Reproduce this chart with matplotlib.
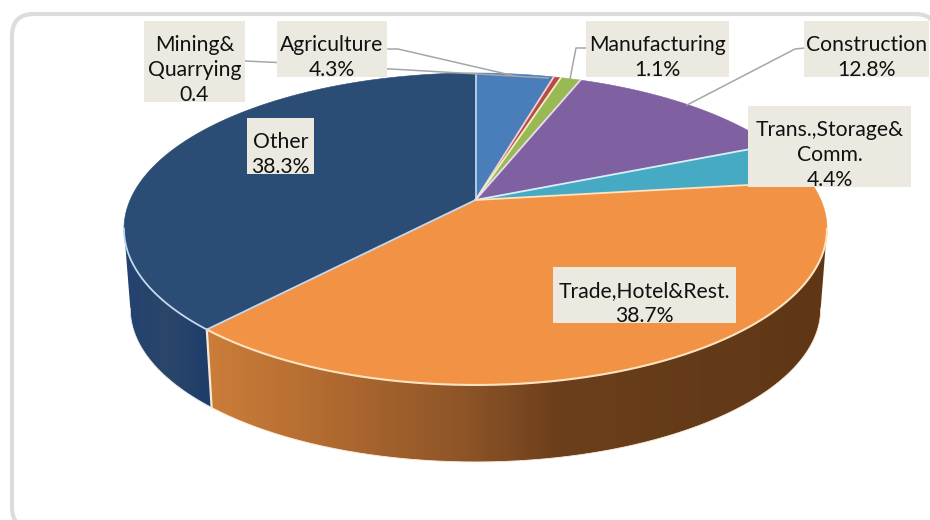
import matplotlib
matplotlib.use("Agg")
import matplotlib.pyplot as plt
import numpy as np
from matplotlib.colors import LinearSegmentedColormap
from matplotlib.patches import FancyBboxPatch, Polygon, Rectangle

plt.rcParams['font.family'] = ['Lato', 'DejaVu Sans']

# sector shares, clockwise from 12 o'clock
sectors = ["Agriculture", "Mining&Quarrying", "Manufacturing", "Construction",
           "Trans.,Storage&Comm.", "Trade,Hotel&Rest.", "Other"]
shares = [4.3, 0.4, 1.1, 12.8, 4.4, 38.7, 38.3]
top_colors = ["#4a7ebb", "#b94a48", "#98b954", "#7f60a0", "#46aac4", "#f29244", "#2b4c74"]
edge_colors = ["#bcd4f0", "#f0d0d0", "#f0f0c8", "#e8dcf0", "#d8f0f8", "#fde3c0", "#c4d8f0"]

box_texts = ["Mining&\nQuarrying\n0.4", "Agriculture\n4.3%", "Manufacturing\n1.1%",
             "Construction\n12.8%", "Trans.,Storage&\nComm.\n4.4%",
             "Trade,Hotel&Rest.\n38.7%", "Other\n38.3%"]
# left, top, right, bottom of each label box
boxes = [(144, 21, 245, 102), (277, 21, 387, 77), (586, 21, 729, 77),
         (804, 21, 929, 77), (748, 106, 911, 187), (553, 267, 736, 323),
         (247, 118, 314, 174)]
leaders = [[(245, 61), (277, 62.5), (548, 78)],
           [(388, 49), (398, 49), (515, 76)],
           [(586, 48), (576, 48), (570, 79)],
           [(805, 48), (795, 49), (687, 105)]]

# pie geometry, perspective tilt keeps the apex above the middle of the ellipse
cx, apex_y = 475.5, 200
k, a, c = 345.4, -113.4, 0.1859
mid_y, drop, shrink = 229, 79.8, 0.982


def rim(frac_start, frac_end, n=300):
    t = np.linspace(frac_start, frac_end, n) * 2 * np.pi
    u, v = np.sin(t), np.cos(t)
    w = 1 + c * v
    return np.column_stack([cx + k * u / w, (a * v + apex_y) / w])


def lower(pts):
    return np.column_stack([cx + shrink * (pts[:, 0] - cx),
                            mid_y + shrink * (pts[:, 1] - mid_y) + drop])


def gradient_side(ax, pts, xs, cols, edge):
    # side wall: horizontal gradient clipped to the wall outline
    low = lower(pts)
    outline = np.vstack([pts, low[::-1]])
    pos = (np.array(xs) - xs[0]) / (xs[-1] - xs[0])
    cmap = LinearSegmentedColormap.from_list("side", list(zip(pos, cols)))
    im = ax.imshow(np.linspace(0, 1, 512).reshape(1, -1), cmap=cmap, aspect='auto',
                   extent=(xs[0], xs[-1], 520, 0), zorder=2, interpolation='bilinear')
    clip = Polygon(outline, closed=True, transform=ax.transData)
    im.set_clip_path(clip)
    ax.plot(low[:, 0], low[:, 1], color=edge, lw=0.6, zorder=2.1)


fig = plt.figure(figsize=(9.3, 5.2), dpi=100)
ax = fig.add_axes([0, 0, 1, 1])
ax.set_xlim(0, 930)
ax.set_ylim(520, 0)
ax.axis('off')

# outer rounded frame
ax.add_patch(FancyBboxPatch((12, 14), 925, 515,
                            boxstyle="round,pad=0,rounding_size=22",
                            fc="white", ec="#dcdcdc", lw=3, zorder=1))

fracs = np.cumsum([0] + shares) / sum(shares)

# side walls for the two front sectors, cut at the ellipse extremes
trade_i, other_i = 5, 6
other_pts = rim(fracs[other_i], fracs[other_i + 1])
other_pts = other_pts[:np.argmin(other_pts[:, 0]) + 1]
trade_pts = rim(fracs[trade_i], fracs[trade_i + 1])
trade_pts = trade_pts[np.argmax(trade_pts[:, 0]):]

gradient_side(ax, other_pts, [120, 130, 170, 206, 215],
              ["#23426e", "#23426e", "#2b466a", "#1e3d69", "#1e3d69"], "#dfe8f2")
gradient_side(ax, trade_pts, [205, 225, 330, 465, 560, 700, 830],
              ["#cb7e3a", "#c87b38", "#b06a30", "#8d5428", "#6b3f1b", "#653a18", "#5f3716"], "#fdebd8")

# seam between the walls
seam_top = other_pts[0]
seam_low = lower(other_pts[:1])[0]
ax.plot([seam_top[0], seam_low[0]], [seam_top[1], seam_low[1]],
        color="#f5ead8", lw=1.6, zorder=2.5)

# top faces, fill first and then the light spokes so the back rim stays soft
for i in range(len(shares)):
    pts = np.vstack([[cx, apex_y], rim(fracs[i], fracs[i + 1])])
    ax.add_patch(Polygon(pts, closed=True, fc=top_colors[i], ec=top_colors[i],
                         lw=0.4, zorder=3))
for i in range(len(shares)):
    pts = rim(fracs[i], fracs[i + 1])
    ax.plot([cx, pts[0, 0]], [apex_y, pts[0, 1]], color=edge_colors[i], lw=1.3, zorder=3.2)
ax.plot(trade_pts[:, 0], trade_pts[:, 1], color=edge_colors[trade_i], lw=1.5, zorder=3.3)
ax.plot(other_pts[:, 0], other_pts[:, 1], color=edge_colors[other_i], lw=1.3, zorder=3.3)

# leader lines
for line in leaders:
    xs, ys = zip(*line)
    ax.plot(xs, ys, color="#a6a6a6", lw=1.1, zorder=4)

# label boxes
for text, (l, t, r, b) in zip(box_texts, boxes):
    ax.add_patch(Rectangle((l, t), r - l, b - t, fc="#ebe9e0", ec="none", zorder=5))
    ax.text((l + r) / 2, (t + b) / 2 + 8.5, text, ha='center', va='center', fontsize=15.2,
            color="#111111", linespacing=1.34, zorder=6)

fig.savefig("out.png", dpi=100)
